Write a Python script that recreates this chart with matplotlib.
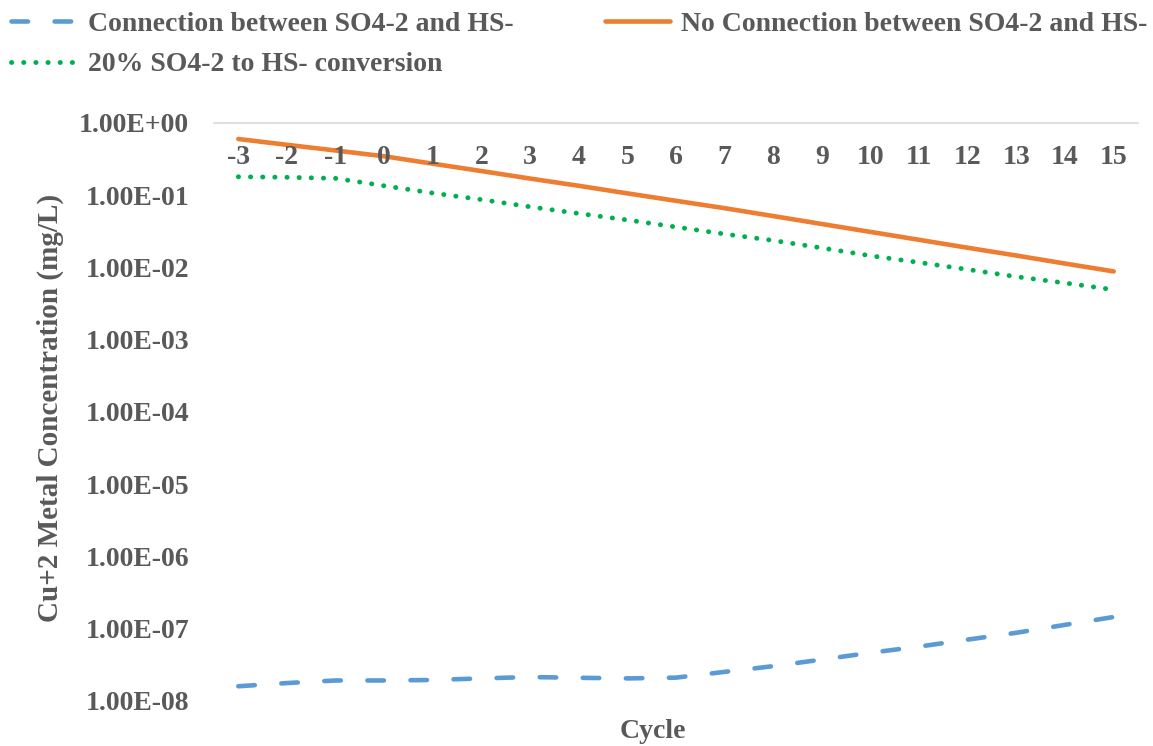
import matplotlib
matplotlib.use("Agg")
import matplotlib.pyplot as plt

# Data
cycles = list(range(-3, 16))

connection = [1.58e-8, 1.75e-8, 1.9e-8, 1.9e-8, 1.93e-8, 2.03e-8, 2.12e-8, 2.07e-8,
              2.03e-8, 2.08e-8, 2.5e-8, 3.0e-8, 3.7e-8, 4.6e-8, 5.6e-8, 7.0e-8,
              8.7e-8, 1.12e-7, 1.44e-7]

no_connection = [0.600, 0.499, 0.416, 0.346, 0.273, 0.216, 0.170, 0.135, 0.106,
                 0.0836, 0.0661, 0.0514, 0.0399, 0.0310, 0.0241, 0.0187, 0.0146,
                 0.0113, 0.0088]

conversion_20 = [0.180, 0.177, 0.171, 0.135, 0.107, 0.0869, 0.0691, 0.0558, 0.0454,
                 0.0363, 0.0290, 0.0236, 0.0186, 0.0145, 0.0117, 0.00935, 0.00743,
                 0.00608, 0.00491]

y_ticks = [1e0, 1e-1, 1e-2, 1e-3, 1e-4, 1e-5, 1e-6, 1e-7, 1e-8]
y_tick_labels = ["1.00E+00", "1.00E-01", "1.00E-02", "1.00E-03", "1.00E-04",
                 "1.00E-05", "1.00E-06", "1.00E-07", "1.00E-08"]

grey = "#595959"
font = "Liberation Serif"
fs = 20

plt.rcParams["font.family"] = [font, "DejaVu Serif"]
plt.rcParams["font.weight"] = "bold"

fig = plt.figure(figsize=(11.53, 7.46), dpi=100)
ax = fig.add_axes([214 / 1153, 1 - 700.6 / 746, (1138 - 214) / 1153, (700.6 - 123) / 746])

l1, = ax.plot(cycles, connection, color="#5b9bd5", lw=3.3,
              linestyle=(0, (3.6, 5.8)), dash_capstyle="round",
              label="Connection between SO4-2 and HS-")
l2, = ax.plot(cycles, no_connection, color="#ed7d31", lw=3.3,
              solid_capstyle="round", label="No Connection between SO4-2 and HS-")
l3, = ax.plot(cycles, conversion_20, color="#00b050", lw=3.5,
              linestyle=(0, (0.05, 2.45)), dash_capstyle="round",
              label="20% SO4-2 to HS- conversion")

ax.set_yscale("log")
ax.set_ylim(1e-8, 1e0)
ax.set_xlim(-3.5, 15.5)
ax.set_yticks(y_ticks)
ax.set_yticklabels(y_tick_labels)
ax.minorticks_off()
ax.tick_params(axis="y", length=0, pad=18, labelsize=fs, labelcolor=grey)
ax.set_xticks([])

for s in ["left", "right", "bottom"]:
    ax.spines[s].set_visible(False)
ax.spines["top"].set_color("#d9d9d9")
ax.spines["top"].set_linewidth(1.2)

# category labels sit just under the axis line at the top
for c in cycles:
    ax.text(c, 0.94, str(c), transform=ax.get_xaxis_transform(),
            ha="center", va="center", fontsize=fs, color=grey, fontweight="bold")

fig.text(50 / 1153, 1 - 408 / 746, "Cu+2 Metal Concentration (mg/L)", rotation=90,
         ha="center", va="center", fontsize=21, color=grey, fontweight="bold")
fig.text(653 / 1153, 1 - 732 / 746, "Cycle", ha="center", va="center",
         fontsize=fs, color=grey, fontweight="bold")

leg = fig.legend([l1, l3, l2], [l1.get_label(), l3.get_label(), l2.get_label()],
                 loc="upper left", bbox_to_anchor=(0.0, 1.0), ncol=2,
                 frameon=False, fontsize=fs, handlelength=2.35, handletextpad=0.4,
                 columnspacing=3.3, labelspacing=0.55, borderaxespad=0.1,
                 borderpad=0.3)
for t in leg.get_texts():
    t.set_color(grey)

fig.savefig("out.png", dpi=100)
